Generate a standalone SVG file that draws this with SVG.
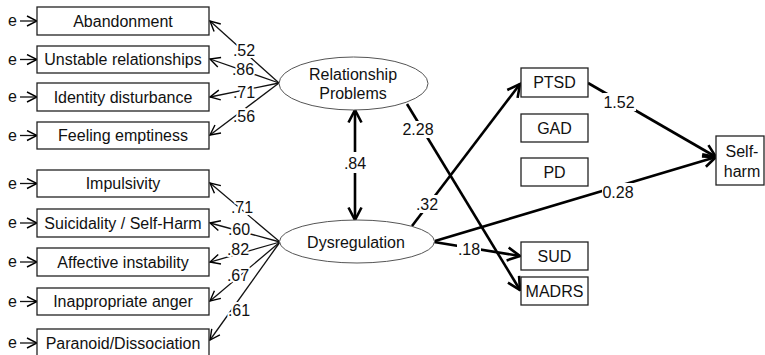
<svg xmlns="http://www.w3.org/2000/svg" width="765" height="355" viewBox="0 0 765 355">
<defs>
<marker id="thin" markerUnits="userSpaceOnUse" viewBox="0 0 12 12" refX="11" refY="6" markerWidth="12" markerHeight="12" orient="auto-start-reverse">
<path d="M1,1 L11,6 L1,11" fill="none" stroke="#000" stroke-width="1.4"/>
</marker>
<marker id="thick" markerUnits="userSpaceOnUse" viewBox="0 0 16 16" refX="14.5" refY="8" markerWidth="16" markerHeight="16" orient="auto-start-reverse">
<path d="M2,1.5 L14.5,8 L2,14.5" fill="none" stroke="#000" stroke-width="2.6"/>
</marker>
</defs>
<style>
text{font-family:"Liberation Sans",Arial,sans-serif;font-size:16px;fill:#111;text-anchor:middle}
.box{fill:#fff;stroke:#222;stroke-width:1.3}
.ell{fill:#fff;stroke:#555;stroke-width:1}
.ln{stroke:#111;stroke-width:1.3;fill:none;marker-end:url(#thin)}
.tk{stroke:#000;stroke-width:2.6;fill:none;marker-end:url(#thick)}
.lbl{paint-order:stroke;stroke:#fff;stroke-width:4;stroke-linejoin:round}
.bg{fill:#fff}
.e{text-anchor:start}
</style>
<g id="connectors">
<path class="ln" d="M20,21 H37"/>
<path class="ln" d="M20,59.5 H37"/>
<path class="ln" d="M20,97 H37"/>
<path class="ln" d="M20,135.5 H37"/>
<path class="ln" d="M20,183.5 H37"/>
<path class="ln" d="M20,223 H37"/>
<path class="ln" d="M20,262 H37"/>
<path class="ln" d="M20,301.5 H37"/>
<path class="ln" d="M20,343 H37"/>
<path class="ln" d="M279,83 L210,21"/>
<path class="ln" d="M279,83 L210,59"/>
<path class="ln" d="M279,83 L210,97"/>
<path class="ln" d="M279,83 L210,135"/>
<path class="ln" d="M280,242 L210,183"/>
<path class="ln" d="M280,242 L210,223"/>
<path class="ln" d="M280,242 L210,262"/>
<path class="ln" d="M280,242 L210,301"/>
<path class="ln" d="M280,242 L210,340"/>
<path class="tk" d="M355,163 V110" />
<path class="tk" d="M355,163 V220" />
<path class="tk" d="M407,104 L520,290"/>
<path class="tk" d="M412,226 L520,84"/>
<path class="tk" d="M435,241 L716,157"/>
<path class="tk" d="M434,242 L520,256"/>
<path class="tk" d="M588,83 L716,157"/>
</g>
<g id="labels">
<text class="lbl" x="244" y="56">.52</text>
<text class="lbl" x="243" y="75">.86</text>
<text class="lbl" x="244" y="98">.71</text>
<text class="lbl" x="244" y="122">.56</text>
<text class="lbl" x="242" y="213">.71</text>
<text class="lbl" x="239" y="235">.60</text>
<text class="lbl" x="238" y="255">.82</text>
<text class="lbl" x="238" y="281">.67</text>
<text class="lbl" x="239" y="316">.61</text>
<rect class="bg" x="343" y="152" width="24" height="21"/>
<text x="355" y="169">.84</text>
<rect class="bg" x="402" y="121" width="33" height="17"/>
<text x="418" y="135">2.28</text>
<rect class="bg" x="415" y="195" width="24" height="18"/>
<text x="427" y="210">.32</text>
<rect class="bg" x="603" y="93" width="33" height="18"/>
<text x="619" y="108">1.52</text>
<rect class="bg" x="602" y="183" width="33" height="18"/>
<text x="618" y="198">0.28</text>
<rect class="bg" x="457" y="240" width="24" height="18"/>
<text x="469" y="255">.18</text>
</g>
<g id="errors">
<text class="e" x="8" y="26">e</text>
<text class="e" x="8" y="64.5">e</text>
<text class="e" x="8" y="102">e</text>
<text class="e" x="8" y="140.5">e</text>
<text class="e" x="8" y="188.5">e</text>
<text class="e" x="8" y="228">e</text>
<text class="e" x="8" y="267">e</text>
<text class="e" x="8" y="306.5">e</text>
<text class="e" x="8" y="348">e</text>
</g>
<g id="abandonment"><rect class="box" x="37" y="7" width="172" height="28"/><text x="123" y="27">Abandonment</text></g>
<g id="unstable"><rect class="box" x="37" y="46" width="172" height="27"/><text x="123" y="65">Unstable relationships</text></g>
<g id="identity"><rect class="box" x="37" y="83" width="172" height="28"/><text x="123" y="103">Identity disturbance</text></g>
<g id="emptiness"><rect class="box" x="37" y="122" width="172" height="27"/><text x="123" y="141">Feeling emptiness</text></g>
<g id="impulsivity"><rect class="box" x="37" y="170" width="172" height="27"/><text x="123" y="189">Impulsivity</text></g>
<g id="suicidality"><rect class="box" x="37" y="209" width="172" height="28"/><text x="123" y="229">Suicidality / Self-Harm</text></g>
<g id="affective"><rect class="box" x="37" y="248" width="172" height="28"/><text x="123" y="268">Affective instability</text></g>
<g id="anger"><rect class="box" x="37" y="288" width="172" height="27"/><text x="123" y="307">Inappropriate anger</text></g>
<g id="paranoid"><rect class="box" x="37" y="329" width="172" height="30"/><text x="123" y="349">Paranoid/Dissociation</text></g>
<g id="relationship"><ellipse class="ell" cx="353.5" cy="83.5" rx="74.5" ry="26.5"/><text x="353" y="80">Relationship</text><text x="353" y="99">Problems</text></g>
<g id="dysregulation"><ellipse class="ell" cx="357" cy="241.5" rx="77.5" ry="21.5"/><text x="356" y="248">Dysregulation</text></g>
<g id="ptsd"><rect class="box" x="521" y="68" width="67" height="29"/><text x="554.5" y="88">PTSD</text></g>
<g id="gad"><rect class="box" x="521" y="114" width="67" height="28"/><text x="554.5" y="134">GAD</text></g>
<g id="pd"><rect class="box" x="521" y="158" width="67" height="28"/><text x="554.5" y="178">PD</text></g>
<g id="sud"><rect class="box" x="521" y="242" width="67" height="28"/><text x="554.5" y="262">SUD</text></g>
<g id="madrs"><rect class="box" x="521" y="277" width="67" height="28"/><text x="554.5" y="297">MADRS</text></g>
<g id="selfharm"><rect class="box" x="716" y="136" width="48" height="49"/><text x="742" y="157">Self-</text><text x="742" y="177">harm</text></g>
</svg>
